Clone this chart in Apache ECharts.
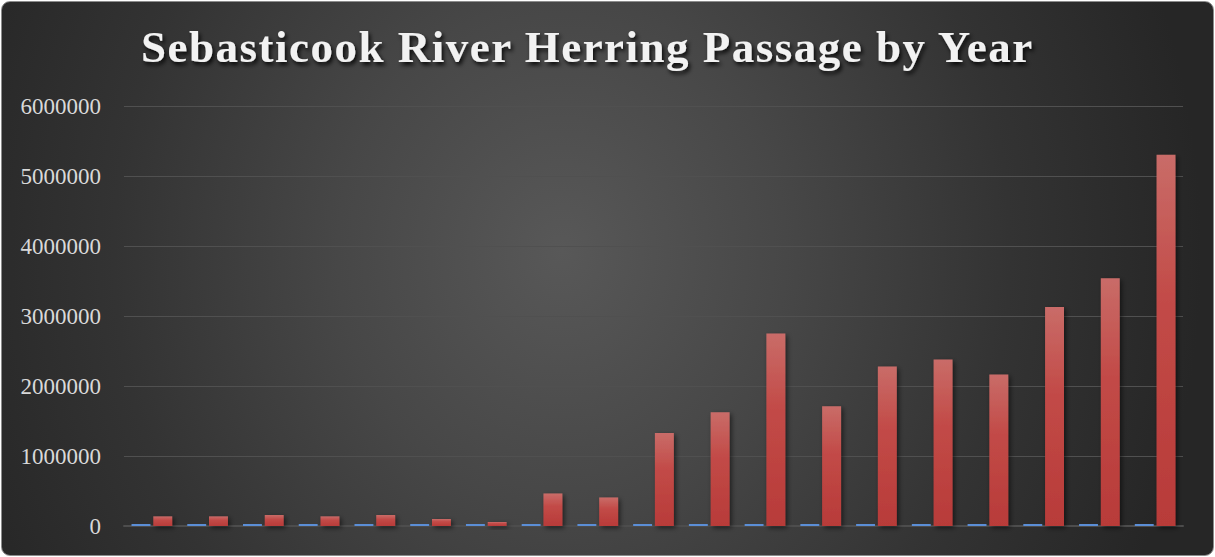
<!DOCTYPE html>
<html>
<head>
<meta charset="utf-8">
<script src="https://cdn.jsdelivr.net/npm/echarts@6/dist/echarts.min.js"></script>
<style>
  html, body { margin: 0; padding: 0; background: #ffffff; }
  #chart {
    position: absolute; left: 1px; top: 1px; width: 1211px; height: 553px;
    border: 1px solid #8c8c8c; border-radius: 9px; overflow: hidden;
    background: radial-gradient(ellipse 640px 720px at 560px 250px,
                #585858 0%, #474747 35%, #333333 70%, #262626 100%);
  }
  /* spaced-out lettering for the heading only */
  #chart text[style*="45px"] { letter-spacing: 1.5px; }
</style>
</head>
<body>
<div id="chart"></div>
<script>
// Alewife / herring counts at the Sebasticook River fishway, one bar per season
const years = ['2000','2001','2002','2003','2004','2005','2006','2007','2008','2009',
               '2010','2011','2012','2013','2014','2015','2016','2017','2018'];
const yearValues = years.map(Number);
const passage = [138000, 138000, 157000, 138000, 157000, 100000, 57000, 465000, 408000, 1328000,
                 1626000, 2750000, 1710000, 2280000, 2380000, 2166000, 3130000, 3540000, 5305000];
const yTicks = [0, 1000000, 2000000, 3000000, 4000000, 5000000, 6000000];

const chart = echarts.init(document.getElementById('chart'), null, { renderer: 'svg' });
chart.setOption({
  animation: false,
  backgroundColor: 'transparent',
  title: {
    text: 'Sebasticook River Herring Passage by Year',
    left: 134, top: 17,
    textStyle: {
      fontFamily: 'Liberation Serif', fontWeight: 'bold', fontSize: 45,
      color: '#f2f2f2',
      textShadowColor: 'rgba(0,0,0,0.85)', textShadowBlur: 4,
      textShadowOffsetX: 2, textShadowOffsetY: 3
    }
  },
  grid: { left: 122, right: 30, top: 104, bottom: 29 },
  xAxis: {
    type: 'category', data: years,
    axisLine: { show: true, lineStyle: { color: '#4d4d4d', width: 2 } },
    axisTick: { show: false },
    axisLabel: { show: false }
  },
  yAxis: {
    type: 'value', min: yTicks[0], max: yTicks[yTicks.length - 1], interval: 1000000,
    axisLine: { show: false }, axisTick: { show: false },
    axisLabel: {
      color: '#d9d9d9', fontFamily: 'Liberation Serif', fontSize: 23, margin: 23,
      formatter: v => String(v)
    },
    splitLine: { lineStyle: { color: '#505050', width: 1 } }
  },
  series: [
    {
      name: 'Year', type: 'bar', data: yearValues, barMinHeight: 2,
      barGap: '15%', barCategoryGap: '27%',
      itemStyle: { color: '#5b8ed6' }
    },
    {
      name: 'Passage', type: 'bar', data: passage,
      itemStyle: {
        color: {
          type: 'linear', x: 0, y: 0, x2: 0, y2: 1,
          colorStops: [
            { offset: 0, color: '#c96c68' },
            { offset: 0.4, color: '#c24a47' },
            { offset: 1, color: '#b83b39' }
          ]
        },
        shadowColor: 'rgba(0,0,0,0.55)', shadowBlur: 5,
        shadowOffsetX: 2, shadowOffsetY: 2
      }
    }
  ]
});
</script>
</body>
</html>
